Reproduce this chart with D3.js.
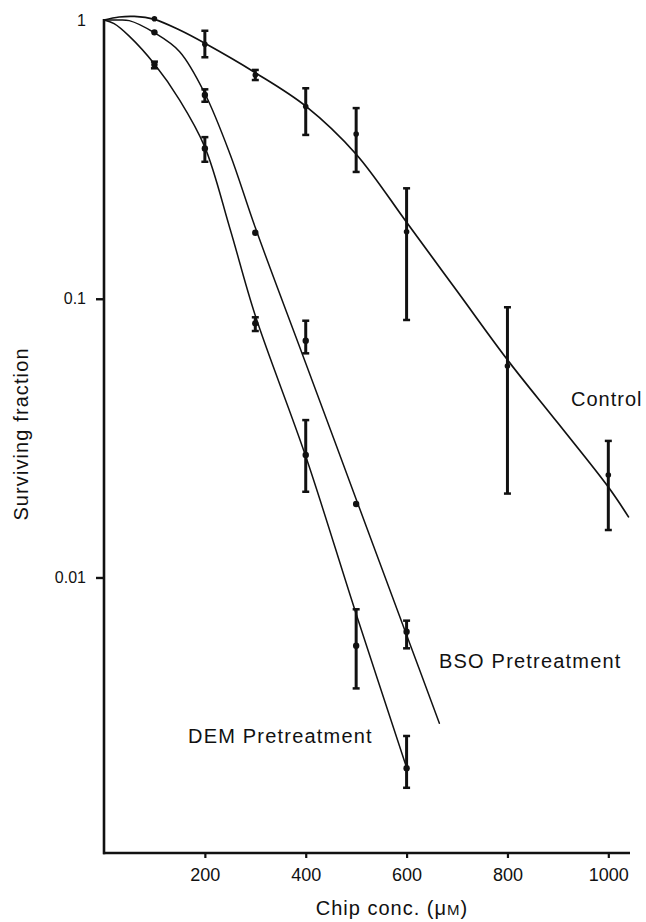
<!DOCTYPE html>
<html>
<head>
<meta charset="utf-8">
<script src="https://cdn.jsdelivr.net/npm/d3@7/dist/d3.min.js"></script>
<style>
  html, body { margin: 0; padding: 0; background: #fff; }
  svg { display: block; }
  text { font-family: "Liberation Sans", Arial, Helvetica, sans-serif; fill: #111; }
</style>
</head>
<body>
<svg id="chart" width="646" height="922"></svg>
<script>
// ---- data ----
const xTicks = [200, 400, 600, 800, 1000];
const yTicks = [1, 0.1, 0.01];
const yTickLabels = ["1", "0.1", "0.01"];

// measured points with error bars (null = no visible bar)
const controlX    = [100, 200, 300, 400, 500, 600, 800, 1000];
const controlMean = [1.01, 0.818, 0.635, 0.489, 0.39, 0.174, 0.0574, 0.0233];
const controlHi   = [null, 0.915, 0.662, 0.569, 0.483, 0.249, 0.0932, 0.0309];
const controlLo   = [null, 0.735, 0.609, 0.387, 0.285, 0.0839, 0.0200, 0.0148];

const bsoX    = [100, 200, 300, 400, 500, 600];
const bsoMean = [0.903, 0.538, 0.1725, 0.0707, 0.01835, 0.00639];
const bsoHi   = [null, 0.564, null, 0.0834, null, 0.0070];
const bsoLo   = [null, 0.509, null, 0.0637, null, 0.00557];

const demX    = [100, 200, 300, 400, 500, 600];
const demMean = [0.693, 0.346, 0.0816, 0.0275, 0.00569, 0.00207];
const demHi   = [0.709, 0.380, 0.0858, 0.0367, 0.00769, 0.00270];
const demLo   = [0.671, 0.310, 0.0766, 0.0203, 0.0040, 0.00176];

// fitted curves
const controlCurveX = [0, 30, 60, 100, 150, 200, 300, 400, 500, 600, 700, 800, 900, 1000, 1040];
const controlCurveY = [1.0, 1.025, 1.03, 1.005, 0.92, 0.825, 0.647, 0.491, 0.33, 0.188, 0.1066, 0.0604, 0.0358, 0.0211, 0.0165];

const bsoCurveX = [0, 25, 50, 100, 150, 200, 250, 300, 400, 500, 600, 665];
const bsoCurveY = [1.0, 1.0, 0.995, 0.90, 0.77, 0.545, 0.33, 0.18, 0.0587, 0.0191, 0.00622, 0.0030];

const demCurveX = [0, 20, 50, 100, 150, 200, 250, 300, 400, 500, 600];
const demCurveY = [1.0, 0.97, 0.875, 0.695, 0.516, 0.35, 0.178, 0.087, 0.0272, 0.0074, 0.00208];

const seriesLabels = ["Control", "BSO Pretreatment", "DEM Pretreatment"];

// ---- scales ----
const svg = d3.select("#chart");
const x = d3.scaleLinear().domain([0, 1043]).range([104, 630]);
const y = d3.scaleLog().domain([0.001027, 1]).range([853, 20]);

const ink = "#111";

// ---- curves ----
const line = d3.line().x(d => x(d[0])).y(d => y(d[1])).curve(d3.curveCatmullRom.alpha(0.5));
function drawCurve(xs, ys, w) {
  svg.append("path")
    .attr("d", line(xs.map((v, i) => [v, ys[i]])))
    .attr("fill", "none").attr("stroke", ink).attr("stroke-width", w)
    .attr("stroke-linejoin", "round").attr("stroke-linecap", "round");
}
drawCurve(controlCurveX, controlCurveY, 1.7);
drawCurve(bsoCurveX, bsoCurveY, 1.5);
drawCurve(demCurveX, demCurveY, 1.5);

// ---- error bars and points ----
function drawPoints(xs, ms, his, los, r) {
  const g = svg.append("g");
  xs.forEach((xv, i) => {
    const cx = x(xv);
    if (his[i] !== null && los[i] !== null) {
      g.append("line").attr("x1", cx).attr("x2", cx)
        .attr("y1", y(his[i])).attr("y2", y(los[i]))
        .attr("stroke", ink).attr("stroke-width", 3);
      [his[i], los[i]].forEach(v => {
        g.append("line").attr("x1", cx - 3.5).attr("x2", cx + 3.5)
          .attr("y1", y(v)).attr("y2", y(v))
          .attr("stroke", ink).attr("stroke-width", 2.5);
      });
    }
    g.append("circle").attr("cx", cx).attr("cy", y(ms[i])).attr("r", r).attr("fill", ink);
  });
}
drawPoints(controlX, controlMean, controlHi, controlLo, 2.8);
drawPoints(bsoX, bsoMean, bsoHi, bsoLo, 3.2);
drawPoints(demX, demMean, demHi, demLo, 3.2);

// ---- axes ----
const xAxis = d3.axisBottom(x).tickValues(xTicks).tickSize(5).tickSizeOuter(0).tickPadding(10)
  .tickFormat(d3.format("d"));
const gx = svg.append("g").attr("transform", "translate(0,853)").call(xAxis);
gx.select(".domain").attr("stroke", ink).attr("stroke-width", 2.6)
  .attr("d", `M${x(0) - 1},0H${x(1043)}`);
gx.selectAll(".tick line").attr("stroke", ink).attr("stroke-width", 2.2);
gx.selectAll(".tick text").attr("font-size", 18).attr("fill", ink)
  .style("font-family", "'Liberation Sans', Arial, sans-serif");

const yAxis = d3.axisLeft(y).tickValues(yTicks).tickSize(8).tickSizeOuter(0).tickPadding(10)
  .tickFormat((d, i) => yTickLabels[i]);
const gy = svg.append("g").attr("transform", "translate(104,0)").call(yAxis);
gy.select(".domain").attr("stroke", ink).attr("stroke-width", 2.6)
  .attr("d", `M0,${y(1) - 1}V${853 + 1.3}`);
gy.selectAll(".tick line").attr("stroke", ink).attr("stroke-width", 2.4)
  .attr("opacity", d => d === 1 ? 0 : 1);
gy.selectAll(".tick text").attr("font-size", 16).attr("fill", ink)
  .style("font-family", "'Liberation Sans', Arial, sans-serif");

// ---- axis titles ----
const xt = svg.append("text").attr("x", 392).attr("y", 915)
  .attr("text-anchor", "middle").attr("font-size", 20).attr("letter-spacing", 1);
xt.append("tspan").text("Chip conc. (\u03bc");
xt.append("tspan").attr("font-size", 15).text("M");
xt.append("tspan").text(")");

svg.append("text").attr("transform", "translate(28,434) rotate(-90)")
  .attr("text-anchor", "middle").attr("font-size", 20).attr("letter-spacing", 1.1)
  .text("Surviving fraction");

// ---- series labels ----
svg.append("text").attr("x", 571).attr("y", 406).attr("font-size", 20)
  .attr("letter-spacing", 1).text(seriesLabels[0]);
svg.append("text").attr("x", 439).attr("y", 668).attr("font-size", 20)
  .attr("letter-spacing", 1.2).text(seriesLabels[1]);
svg.append("text").attr("x", 188).attr("y", 743).attr("font-size", 20)
  .attr("letter-spacing", 1.2).text(seriesLabels[2]);
</script>
</body>
</html>
